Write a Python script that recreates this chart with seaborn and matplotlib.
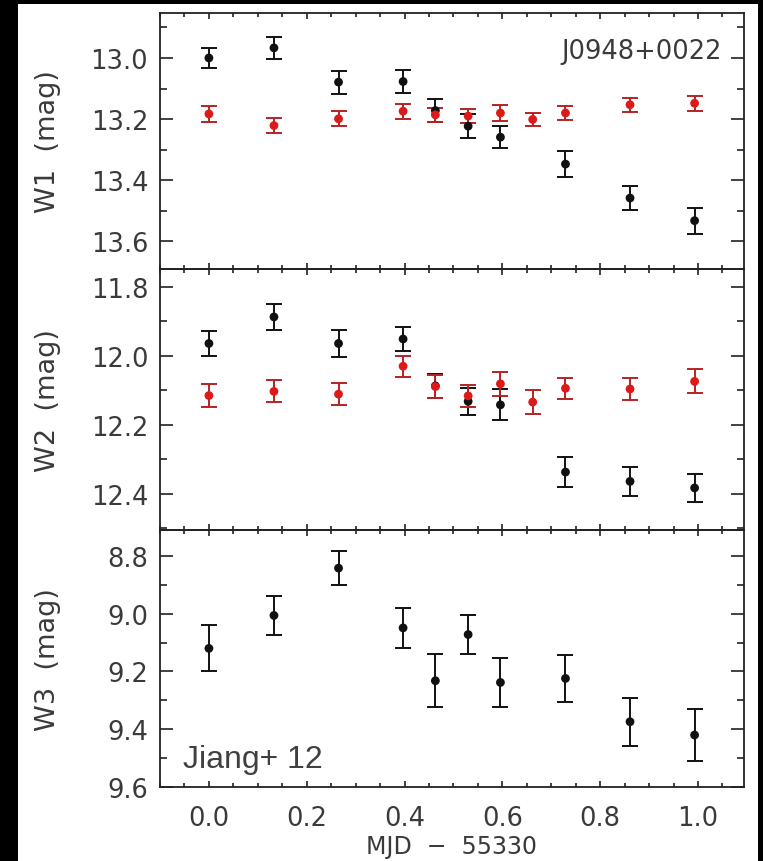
import numpy as np
import pandas as pd
import matplotlib
matplotlib.use("Agg")
import matplotlib.pyplot as plt
from matplotlib.patches import Rectangle
from matplotlib.ticker import MultipleLocator, FormatStrFormatter
import seaborn as sns

# ---------------- data ----------------
t_black = [0.0, 0.133, 0.265, 0.397, 0.463, 0.530, 0.596, 0.729, 0.861, 0.993]
t_red = [0.0, 0.133, 0.265, 0.397, 0.463, 0.530, 0.596, 0.662, 0.729, 0.861, 0.993]

w1_black = [13.00, 12.967, 13.079, 13.077, 13.172, 13.223, 13.259, 13.347, 13.458, 13.532]
w1_black_err = [0.034, 0.035, 0.038, 0.037, 0.038, 0.039, 0.037, 0.042, 0.040, 0.042]
w1_red = [13.183, 13.221, 13.199, 13.174, 13.186, 13.190, 13.180, 13.201, 13.180, 13.153, 13.148]
w1_red_err = [0.027, 0.025, 0.024, 0.025, 0.023, 0.023, 0.027, 0.022, 0.023, 0.023, 0.024]

w2_black = [11.964, 11.887, 11.964, 11.951, 12.087, 12.132, 12.142, 12.337, 12.364, 12.383]
w2_black_err = [0.036, 0.037, 0.039, 0.035, 0.035, 0.039, 0.045, 0.044, 0.042, 0.041]
w2_red = [12.115, 12.103, 12.111, 12.030, 12.089, 12.116, 12.081, 12.134, 12.094, 12.096, 12.074]
w2_red_err = [0.033, 0.032, 0.032, 0.030, 0.034, 0.031, 0.035, 0.035, 0.031, 0.031, 0.035]

w3_black = [9.120, 9.006, 8.842, 9.049, 9.232, 9.072, 9.238, 9.224, 9.374, 9.420]
w3_black_err = [0.080, 0.066, 0.059, 0.070, 0.092, 0.066, 0.086, 0.080, 0.083, 0.091]

panel_labels = ["W1  (mag)", "W2  (mag)", "W3  (mag)"]
x_ticks = [0.0, 0.2, 0.4, 0.6, 0.8, 1.0]
object_name = "J0948+0022"
credit = "Jiang+ 12"
x_label = "MJD  \u2212  55330"

# ---------------- style ----------------
sns.set_style("ticks")
plt.rcParams["font.family"] = ["DejaVu Sans"]

W, H = 763, 862
fig = plt.figure(figsize=(W / 100, H / 100), dpi=100, facecolor="black")
fig.patches.append(Rectangle((18 / W, 0), (758 - 18) / W, 1 - 5 / H,
                             transform=fig.transFigure, facecolor="white",
                             edgecolor="none", zorder=-10))

left_px, right_px = 160, 744
bounds = [(14, 270), (270, 531), (531, 788)]
ylims = [(13.69, 12.853), (12.505, 11.748), (9.60, 8.71)]

RED = "#dd1a1a"
RED_ERR = "#b82222"
BLACK = "#111111"
TXT = "#3a3a3a"

axes = []
for i, (top, bot) in enumerate(bounds):
    ax = fig.add_axes([left_px / W, 1 - bot / H, (right_px - left_px) / W, (bot - top) / H])
    ax.set_facecolor("none")
    axes.append(ax)

datasets = [
    [(t_black, w1_black, w1_black_err, BLACK, BLACK), (t_red, w1_red, w1_red_err, RED, RED_ERR)],
    [(t_black, w2_black, w2_black_err, BLACK, BLACK), (t_red, w2_red, w2_red_err, RED, RED_ERR)],
    [(t_black, w3_black, w3_black_err, BLACK, BLACK)],
]

for i, ax in enumerate(axes):
    for (t, m, e, c, ce) in datasets[i]:
        df = pd.DataFrame({"t": t, "mag": m, "err": e})
        ax.errorbar(df["t"], df["mag"], yerr=df["err"], fmt="none", ecolor=ce,
                    elinewidth=1.4, capsize=6, capthick=1.4, zorder=2)
        sns.scatterplot(data=df, x="t", y="mag", ax=ax, color=c, s=40,
                        edgecolor="none", linewidth=0, zorder=3)
    ax.set_xlim(-0.1, 1.094)
    ax.set_ylim(*ylims[i])
    ax.xaxis.set_major_locator(MultipleLocator(0.2))
    ax.xaxis.set_minor_locator(MultipleLocator(0.05))
    ax.yaxis.set_major_locator(MultipleLocator(0.2))
    ax.yaxis.set_minor_locator(MultipleLocator(0.1))
    ax.yaxis.set_major_formatter(FormatStrFormatter("%.1f"))
    ax.xaxis.set_major_formatter(FormatStrFormatter("%.1f"))
    ax.tick_params(axis="both", which="both", direction="in", top=True, right=True,
                   color="#222222", width=1.2)
    ax.tick_params(axis="y", which="major", length=9.5, pad=8.5,
                   labelsize=18.5, labelcolor=TXT)
    ax.tick_params(axis="y", which="minor", length=5)
    ax.tick_params(axis="x", which="major", length=4.5, pad=13,
                   labelsize=18.5, labelcolor=TXT)
    ax.tick_params(axis="x", which="minor", length=3)
    if i < 2:
        ax.tick_params(axis="x", labelbottom=False)
    else:
        ax.set_xticks(x_ticks)
    for sp in ax.spines.values():
        sp.set_color("#222222")
        sp.set_linewidth(1.3)
    ax.set_ylabel(panel_labels[i], fontsize=19.5, color=TXT)
    ax.yaxis.set_label_coords((48 - left_px) / (right_px - left_px), 0.5)
    ax.yaxis.label.set_va("center")
    ax.set_xlabel("")

axes[2].set_xlabel(x_label, fontsize=17, color=TXT)
axes[2].xaxis.set_label_coords(0.5, (788 - 847) / 257)
axes[2].xaxis.label.set_va("center")

axes[0].text((722 - left_px) / (right_px - left_px), (270 - 52) / 256, object_name,
             transform=axes[0].transAxes, ha="right", va="center",
             fontsize=18.5, color=TXT)
axes[2].text((183 - left_px) / (right_px - left_px), (788 - 760) / 257, credit,
             transform=axes[2].transAxes, ha="left", va="center",
             fontsize=23, color="#404040", family=["Liberation Sans", "DejaVu Sans"])

fig.savefig("out.png", dpi=100, facecolor=fig.get_facecolor())
